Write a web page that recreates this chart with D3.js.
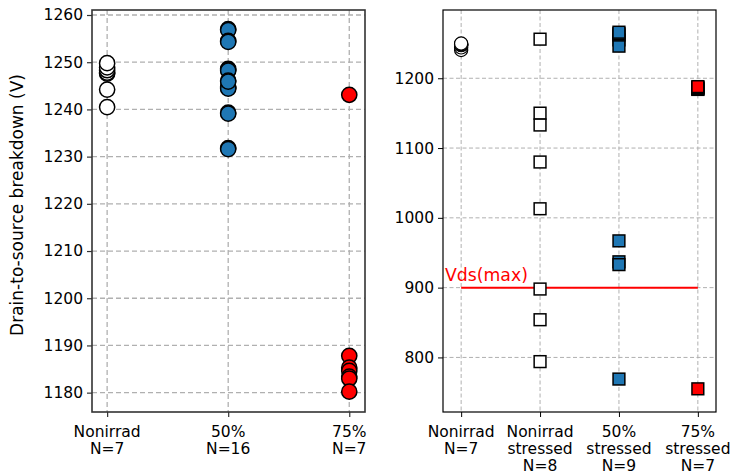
<!DOCTYPE html>
<html><head><meta charset="utf-8">
<script src="https://cdn.jsdelivr.net/npm/d3@7"></script>
<style>body{margin:0;background:#fff}svg{display:block}text{font-family:"DejaVu Sans",sans-serif}</style>
</head><body>
<svg id="c" width="732" height="474"></svg>
<script>
// ---- data ----
const leftLabels = [["Nonirrad","N=7"],["50%","N=16"],["75%","N=7"]];
const rightLabels = [["Nonirrad","N=7"],["Nonirrad","stressed","N=8"],["50%","stressed","N=9"],["75%","stressed","N=7"]];
const nonirrad = [1240.5, 1244.2, 1247.6, 1247.8, 1248.3, 1248.9, 1249.8];
const irr50 = [1257.0, 1256.8, 1254.5, 1254.3, 1248.6, 1248.4, 1248.2, 1244.8, 1244.6, 1244.4, 1246.1, 1245.9, 1239.3, 1239.1, 1231.8, 1231.6];
const irr75 = [1243.1, 1187.8, 1185.3, 1184.6, 1183.4, 1183.0, 1180.2];
const nonirradStressed = [1256, 1150, 1133, 1080, 1013, 898, 854, 794];
const stressed50 = [1255, 1246, 1262, 1264, 1266, 967, 937, 933, 769];
const stressed75 = [1184.0, 1184.6, 1185.3, 1186.2, 1187.0, 1188.0, 755];
const vdsMax = 900;
const vdsLabel = "Vds(max)";
const leftYTicks = [1180, 1190, 1200, 1210, 1220, 1230, 1240, 1250, 1260];
const rightYTicks = [800, 900, 1000, 1100, 1200];
const yTitle = "Drain-to-source breakdown (V)";

const BLUE = "#1f77b4", RED = "#ff0000";
const svg = d3.select("#c");
const FS = 15.5;

// ---- left panel ----
const L = {x0: 92, x1: 365, y0: 10, y1: 412};
const lx = d3.scaleLinear().domain([-0.125, 2.13]).range([L.x0, L.x1]);
const ly = d3.scaleLinear().domain([1175.9, 1261.06]).range([L.y1, L.y0]);
const gl = svg.append("g");
gl.selectAll(".gy").data(leftYTicks).join("line")
  .attr("x1", L.x0).attr("x2", L.x1).attr("y1", d => ly(d)).attr("y2", d => ly(d))
  .attr("stroke", "#b0b0b0").attr("stroke-width", 1.3).attr("stroke-dasharray", "5,3");
gl.selectAll(".gx").data(leftLabels.map((d,i)=>i)).join("line")
  .attr("x1", d => lx(d)).attr("x2", d => lx(d)).attr("y1", L.y0).attr("y2", L.y1)
  .attr("stroke", "#b0b0b0").attr("stroke-width", 1.3).attr("stroke-dasharray", "5,3");
const laxY = gl.append("g").attr("transform", `translate(${L.x0},0)`)
  .call(d3.axisLeft(ly).tickValues(leftYTicks).tickSize(5).tickPadding(4).tickFormat(d3.format("d")));
const laxX = gl.append("g").attr("transform", `translate(0,${L.y1})`)
  .call(d3.axisBottom(lx).tickValues([0,1,2]).tickSize(5).tickFormat(""));
[laxY, laxX].forEach(a => { a.select(".domain").remove(); a.selectAll("line").attr("stroke", "#333").attr("stroke-width", 1.2);
  a.selectAll("text").attr("font-size", FS).attr("fill", "#000").attr("font-family", "DejaVu Sans"); });
leftLabels.forEach((lines, i) => {
  const t = gl.append("text").attr("text-anchor", "middle").attr("font-size", FS);
  lines.forEach((s, j) => t.append("tspan").attr("x", lx(i)).attr("y", 437 + j * 17.3).text(s));
});
function circles(g, xs, ys, cat, vals, r, fill, sw) {
  g.selectAll(null).data(vals).join("circle")
    .attr("cx", xs(cat)).attr("cy", d => ys(d)).attr("r", r)
    .attr("fill", fill).attr("stroke", "#000").attr("stroke-width", sw);
}
circles(gl, lx, ly, 0, nonirrad, 7.6, "#fff", 1.5);
circles(gl, lx, ly, 1, irr50, 7.6, BLUE, 1.5);
circles(gl, lx, ly, 2, irr75, 7.6, RED, 1.5);
gl.append("rect").attr("x", L.x0).attr("y", L.y0).attr("width", L.x1 - L.x0).attr("height", L.y1 - L.y0)
  .attr("fill", "none").attr("stroke", "#333").attr("stroke-width", 1.6);
svg.append("text").attr("transform", `translate(23,${(L.y0+L.y1)/2 - 6}) rotate(-90)`)
  .attr("text-anchor", "middle").attr("font-size", 17).text(yTitle);

// ---- right panel ----
const R = {x0: 443, x1: 716, y0: 10, y1: 412};
const rx = d3.scaleLinear().domain([-0.23, 3.23]).range([R.x0, R.x1]);
const ry = d3.scaleLinear().domain([721.8, 1297.8]).range([R.y1, R.y0]);
const gr = svg.append("g");
gr.selectAll(".gy").data(rightYTicks).join("line")
  .attr("x1", R.x0).attr("x2", R.x1).attr("y1", d => ry(d)).attr("y2", d => ry(d))
  .attr("stroke", "#b0b0b0").attr("stroke-width", 1).attr("stroke-dasharray", "4,2.5");
gr.selectAll(".gx").data(rightLabels.map((d,i)=>i)).join("line")
  .attr("x1", d => rx(d)).attr("x2", d => rx(d)).attr("y1", R.y0).attr("y2", R.y1)
  .attr("stroke", "#b0b0b0").attr("stroke-width", 1).attr("stroke-dasharray", "4,2.5");
const raxY = gr.append("g").attr("transform", `translate(${R.x0},0)`)
  .call(d3.axisLeft(ry).tickValues(rightYTicks).tickSize(5).tickPadding(4).tickFormat(d3.format("d")));
const raxX = gr.append("g").attr("transform", `translate(0,${R.y1})`)
  .call(d3.axisBottom(rx).tickValues([0,1,2,3]).tickSize(5).tickFormat(""));
[raxY, raxX].forEach(a => { a.select(".domain").remove(); a.selectAll("line").attr("stroke", "#000").attr("stroke-width", 1);
  a.selectAll("text").attr("font-size", FS).attr("fill", "#000").attr("font-family", "DejaVu Sans"); });
rightLabels.forEach((lines, i) => {
  const t = gr.append("text").attr("text-anchor", "middle").attr("font-size", FS);
  lines.forEach((s, j) => t.append("tspan").attr("x", rx(i)).attr("y", 437 + j * 17).text(s));
});
gr.append("line").attr("x1", rx(0)).attr("x2", rx(3)).attr("y1", ry(vdsMax)).attr("y2", ry(vdsMax))
  .attr("stroke", RED).attr("stroke-width", 2);
gr.append("text").attr("x", 445).attr("y", ry(vdsMax) - 6.5).attr("font-size", 17.3).attr("fill", RED).text(vdsLabel);
circles(gr, rx, ry, 0, nonirrad, 6.6, "#fff", 1.2);
function squares(g, cat, vals, fill) {
  const s = 11.8;
  g.selectAll(null).data(vals).join("rect")
    .attr("x", rx(cat) - s/2).attr("y", d => ry(d) - s/2).attr("width", s).attr("height", s)
    .attr("fill", fill).attr("stroke", "#000").attr("stroke-width", 1.5);
}
squares(gr, 1, nonirradStressed, "#fff");
squares(gr, 2, stressed50, BLUE);
squares(gr, 3, stressed75, RED);
gr.append("rect").attr("x", R.x0).attr("y", R.y0).attr("width", R.x1 - R.x0).attr("height", R.y1 - R.y0)
  .attr("fill", "none").attr("stroke", "#000").attr("stroke-width", 1.2);
</script>
</body></html>
